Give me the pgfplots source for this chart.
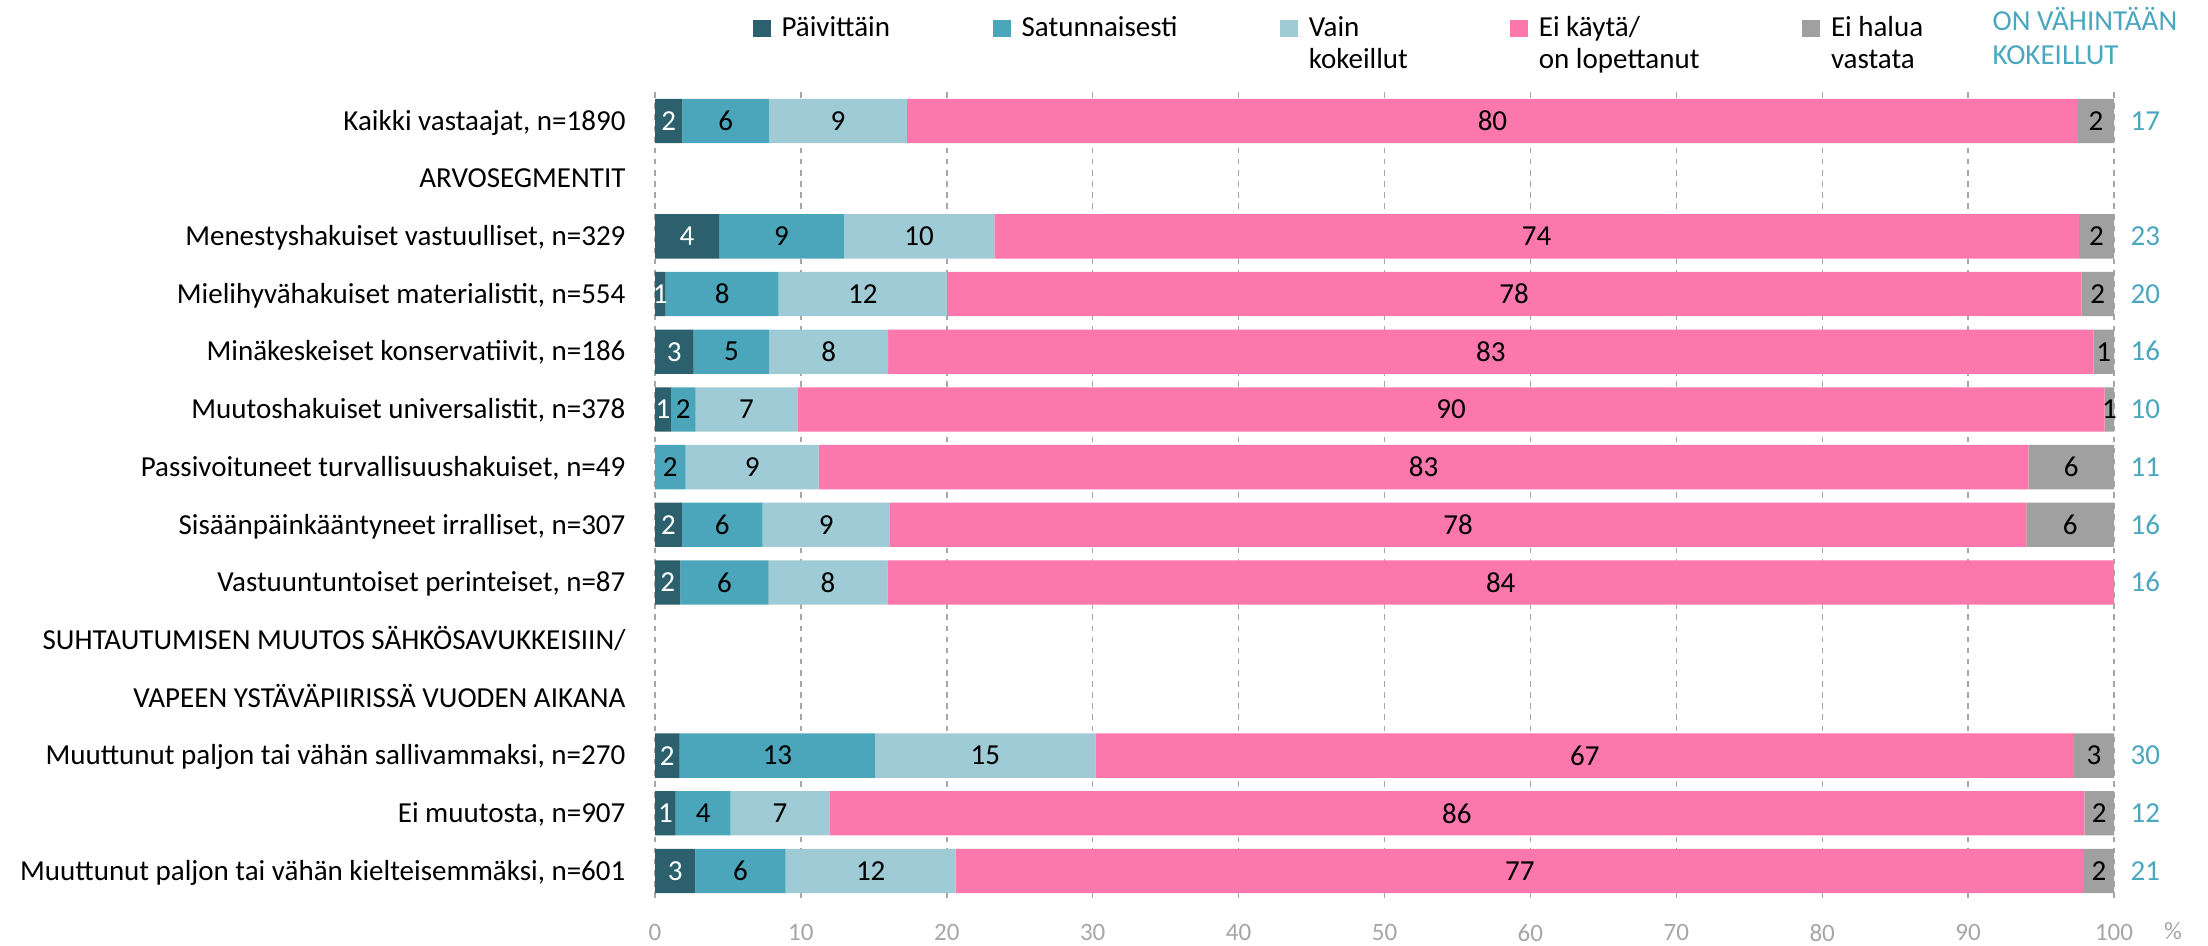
\documentclass[border=0pt]{standalone}
\usepackage{pgfplots}
\usepackage{pgfplotstable}
\pgfplotsset{compat=1.18}
\usepackage{fontspec}
\setmainfont{Carlito}
\definecolor{cA}{HTML}{2B606C}
\definecolor{cB}{HTML}{4BA6BC}
\definecolor{cC}{HTML}{9FCBD6}
\definecolor{cD}{HTML}{FC77AB}
\definecolor{cE}{HTML}{A0A0A0}
\definecolor{cT}{HTML}{4AA7BF}
\definecolor{cG}{HTML}{A6A6A6}
\newcommand{\lf}{\fontsize{10.44pt}{12.5pt}\selectfont}
\newcommand{\tf}{\fontsize{9pt}{10.8pt}\selectfont}

\pgfplotstableread{
y  p    pl s     sl v     vl e     el h    hl
0  1.88 2  5.92  6  9.47  9  80.26 80 2.47 2
2  4.39 4  8.56  9  10.31 10 74.34 74 2.40 2
3  0.73 1  7.75  8  11.53 12 77.75 78 2.24 2
4  2.65 3  5.19  5  8.13  8  82.63 83 1.40 1
5  1.08 1  1.71  2  6.97  7  89.60 90 0.64 1
6  0.00 {} 2.10  2  9.12  9  82.91 83 5.87 6
7  1.85 2  5.53  6  8.71  9  77.91 78 6.00 6
8  1.74 2  6.05  6  8.14  8  84.07 84 0.00 {}
11 1.69 2  13.41 13 15.09 15 67.07 67 2.74 3
12 1.42 1  3.77  4  6.76  7  86.02 86 2.03 2
13 2.77 3  6.19  6  11.65 12 77.32 77 2.07 2
}\data

\begin{document}
\begin{tikzpicture}
\useasboundingbox (0,0) rectangle (794.88pt,340.2pt);
\begin{axis}[
  at={(235.8pt,16.27pt)}, anchor=south west,
  scale only axis, width=525.24pt, height=290.75pt,
  xbar stacked, bar width=15.95pt,
  xmin=0, xmax=100, ymin=-0.5, ymax=13.5, y dir=reverse,
  xtick={0,10,...,100},
  ytick={0,...,13},
  yticklabels={
    {Kaikki vastaajat, n=1890},
    {ARVOSEGMENTIT},
    {Menestyshakuiset vastuulliset, n=329},
    {Mielihyvähakuiset materialistit, n=554},
    {Minäkeskeiset konservatiivit, n=186},
    {Muutoshakuiset universalistit, n=378},
    {Passivoituneet turvallisuushakuiset, n=49},
    {Sisäänpäinkääntyneet irralliset, n=307},
    {Vastuuntuntoiset perinteiset, n=87},
    {SUHTAUTUMISEN MUUTOS SÄHKÖSAVUKKEISIIN/\hspace{2.9pt}},
    {VAPEEN YSTÄVÄPIIRISSÄ VUODEN AIKANA\hspace{2.9pt}},
    {Muuttunut paljon tai vähän sallivammaksi, n=270},
    {Ei muutosta, n=907},
    {Muuttunut paljon tai vähän kielteisemmäksi, n=601}},
  major tick length=0pt,
  axis line style={draw=none},
  xmajorgrids, ymajorgrids=false,
  major grid style={cG, dash pattern=on 2pt off 2pt, line width=0.5pt},
  /pgf/number format/assume math mode=true,
  xticklabel style={font=\tf, text=cG, anchor=north, inner sep=0pt, yshift=-8.6pt},
  yticklabel style={font=\lf, text=black, anchor=base east, inner sep=0pt, xshift=-10.44pt, yshift=-3.3pt},
  clip=false,
  point meta=explicit symbolic,
  nodes near coords={\pgfplotspointmeta},
  every node near coord/.append style={font=\lf, text=black, anchor=center, inner sep=0pt},
  legend image code/.code={\fill[#1] (0pt,0pt) rectangle (6.48pt,6.12pt); \path (0pt,0pt) -- (8.28pt,0pt);},
  legend columns=5,
  legend style={at={(axis description cs:0.06717,1.09695)}, anchor=north west, draw=none, fill=none, inner sep=0pt, outer sep=0pt, column sep=0pt, row sep=0pt, font=\lf,
    cells={anchor=base west, inner sep=0pt, text height=6.17pt, text depth=6.17pt},
    /tikz/every even column/.style={column sep=0pt},
    /tikz/every odd column/.style={column sep=0pt}},
]
\addplot[fill=cA, draw=none, every node near coord/.append style={text=white}] table[x=p, y=y, meta=pl] {\data};
\addplot[fill=cB, draw=none] table[x=s, y=y, meta=sl] {\data};
\addplot[fill=cC, draw=none] table[x=v, y=y, meta=vl] {\data};
\addplot[fill=cD, draw=none] table[x=e, y=y, meta=el] {\data};
\addplot[fill=cE, draw=none] table[x=h, y=y, meta=hl] {\data};
\addlegendimage{empty legend}
\addlegendimage{empty legend}
\addlegendimage{empty legend}
\addlegendimage{empty legend}
\addlegendimage{empty legend}
\legend{\makebox[74.16pt][l]{Päivittäin}, \makebox[91.08pt][l]{Satunnaisesti}, \makebox[70.56pt][l]{Vain}, \makebox[92.88pt][l]{Ei käytä/}, \makebox[36pt][l]{Ei halua},
  \mbox{}, \mbox{}, kokeillut, on lopettanut, vastata}
\end{axis}
\begin{axis}[
  at={(235.8pt,16.27pt)}, anchor=south west,
  scale only axis, width=525.24pt, height=290.75pt,
  xmin=0, xmax=100, ymin=-0.5, ymax=13.5, y dir=reverse,
  xtick=\empty,
  ytick={0,2,3,4,5,6,7,8,11,12,13},
  yticklabels={17,23,20,16,10,11,16,16,30,12,21},
  yticklabel pos=right,
  major tick length=0pt,
  axis line style={draw=none},
  /pgf/number format/assume math mode=true,
  yticklabel style={font=\lf, text=cT, anchor=base west, inner sep=0pt, xshift=5.8pt, yshift=-3.3pt},
]
\end{axis}
\node[anchor=base west, font=\lf, text=cT, inner sep=0pt] at (717.12pt,329.04pt) {ON VÄHINTÄÄN};
\node[anchor=base west, font=\lf, text=cT, inner sep=0pt] at (717.12pt,316.8pt) {KOKEILLUT};
\node[anchor=north, font=\tf, text=cG, inner sep=0pt] at (782.3pt,8.4pt) {\%};
\end{tikzpicture}
\end{document}
